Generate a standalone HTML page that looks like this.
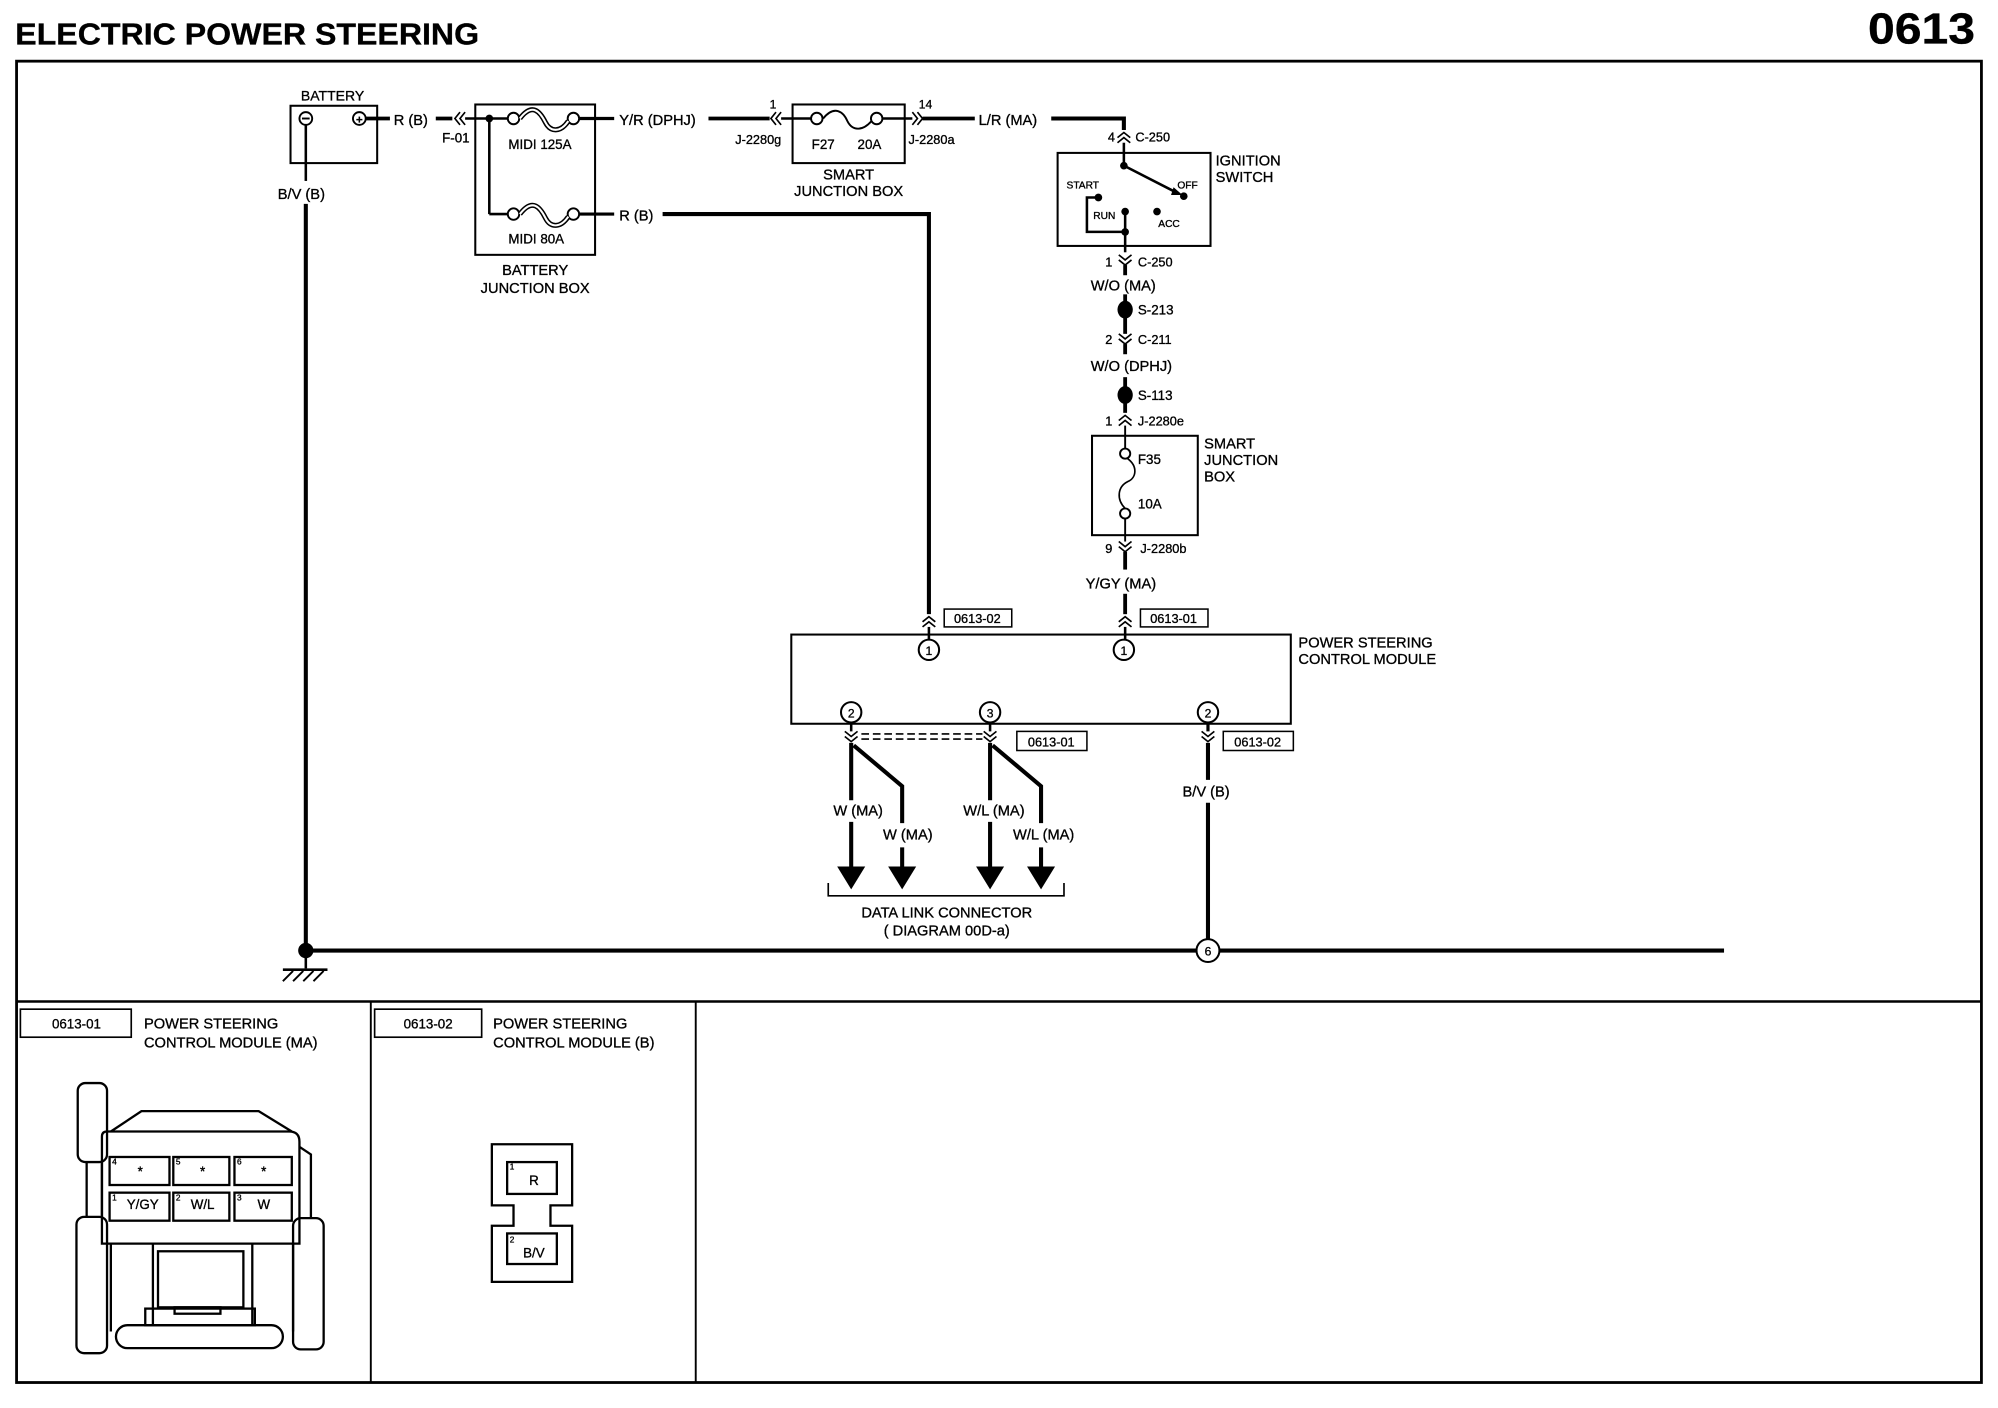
<!DOCTYPE html>
<html><head><meta charset="utf-8"><style>
html,body{margin:0;padding:0;background:#fff;}
svg{display:block;}
text{font-family:"Liberation Sans",Arial,sans-serif;fill:#000;stroke:#000;stroke-width:0.25;}
</style></head><body>
<svg width="1998" height="1408" viewBox="0 0 1568 1105" preserveAspectRatio="none" xmlns="http://www.w3.org/2000/svg">
<g font-size="11.5">
<text x="12" y="35" font-size="24" font-weight="bold" textLength="364" lengthAdjust="spacingAndGlyphs">ELECTRIC POWER STEERING</text>
<text x="1466" y="34" font-size="34" font-weight="bold" textLength="84" lengthAdjust="spacingAndGlyphs">0613</text>

<!-- frame -->
<rect x="13" y="48" width="1542" height="1037" fill="none" stroke="#000" stroke-width="2.2"/>
<line x1="13" y1="786" x2="1555" y2="786" stroke="#000" stroke-width="2"/>
<line x1="291" y1="786" x2="291" y2="1085" stroke="#000" stroke-width="1.5"/>
<line x1="546" y1="786" x2="546" y2="1085" stroke="#000" stroke-width="1.5"/>

<!-- battery -->
<text x="261" y="79" text-anchor="middle" font-size="11">BATTERY</text>
<rect x="228" y="83" width="68" height="45" fill="none" stroke="#000" stroke-width="1.6"/>
<circle cx="240" cy="93" r="5" fill="none" stroke="#000" stroke-width="1.5"/>
<line x1="237" y1="93" x2="243" y2="93" stroke="#000" stroke-width="1.5"/>
<circle cx="282" cy="93" r="5" fill="none" stroke="#000" stroke-width="1.5"/>
<text x="282" y="97" text-anchor="middle" font-size="9" font-weight="bold">+</text>
<line x1="287" y1="93" x2="306" y2="93" stroke="#000" stroke-width="3"/>
<text x="309" y="98">R (B)</text>
<line x1="342" y1="93" x2="355" y2="93" stroke="#000" stroke-width="3"/>
<path d="M361 88 L357 93 L361 98 M365 88 L361 93 L365 98" fill="none" stroke="#000" stroke-width="1.3"/>
<text x="347" y="112" font-size="10.5">F-01</text>
<line x1="365" y1="93" x2="402" y2="93" stroke="#000" stroke-width="2"/>
<text x="218" y="156">B/V (B)</text>
<line x1="240" y1="98" x2="240" y2="142" stroke="#000" stroke-width="2"/>
<line x1="240" y1="160" x2="240" y2="745" stroke="#000" stroke-width="3.2"/>
<circle cx="240" cy="746" r="6" fill="#000"/>
<line x1="240" y1="746" x2="240" y2="760" stroke="#000" stroke-width="2"/>
<line x1="222" y1="761" x2="257" y2="761" stroke="#000" stroke-width="2"/>
<path d="M230 762 L222 770 M238 762 L230 770 M246 762 L238 770 M254 762 L246 770" stroke="#000" stroke-width="1.5"/>
<line x1="240" y1="746" x2="1353" y2="746" stroke="#000" stroke-width="3.2"/>

<!-- battery junction box -->
<rect x="373" y="82" width="94" height="118" fill="none" stroke="#000" stroke-width="1.6"/>
<circle cx="384" cy="93" r="3" fill="#000"/>
<line x1="384" y1="93" x2="384" y2="168" stroke="#000" stroke-width="2"/>
<line x1="384" y1="168" x2="398" y2="168" stroke="#000" stroke-width="2"/>
<circle cx="403" cy="93" r="4.5" fill="#fff" stroke="#000" stroke-width="1.5"/>
<circle cx="450" cy="93" r="4.5" fill="#fff" stroke="#000" stroke-width="1.5"/>
<path d="M408 93 C418 80 424 88 428 96 C432 104 440 104 446 95" fill="none" stroke="#000" stroke-width="4"/>
<path d="M408 93 C418 80 424 88 428 96 C432 104 440 104 446 95" fill="none" stroke="#fff" stroke-width="1.6"/>
<text x="399" y="117" font-size="10.5">MIDI  125A</text>
<circle cx="403" cy="168" r="4.5" fill="#fff" stroke="#000" stroke-width="1.5"/>
<circle cx="450" cy="168" r="4.5" fill="#fff" stroke="#000" stroke-width="1.5"/>
<path d="M408 168 C418 155 424 163 428 171 C432 179 440 179 446 170" fill="none" stroke="#000" stroke-width="4"/>
<path d="M408 168 C418 155 424 163 428 171 C432 179 440 179 446 170" fill="none" stroke="#fff" stroke-width="1.6"/>
<text x="399" y="191" font-size="10.5">MIDI  80A</text>
<line x1="455" y1="93" x2="482" y2="93" stroke="#000" stroke-width="2.5"/>
<line x1="455" y1="168" x2="482" y2="168" stroke="#000" stroke-width="2.5"/>
<text x="420" y="216" text-anchor="middle">BATTERY</text>
<text x="420" y="230" text-anchor="middle">JUNCTION BOX</text>
<text x="486" y="98">Y/R (DPHJ)</text>
<text x="486" y="173">R (B)</text>
<path d="M520 168 L729 168 L729 482" fill="none" stroke="#000" stroke-width="3.2"/>
<line x1="556" y1="93" x2="604" y2="93" stroke="#000" stroke-width="3"/>
<path d="M609 88 L605 93 L609 98 M613 88 L609 93 L613 98" fill="none" stroke="#000" stroke-width="1.3"/>
<text x="604" y="85" font-size="9.5">1</text>
<text x="577" y="113" font-size="10">J-2280g</text>
<line x1="613" y1="93" x2="641" y2="93" stroke="#000" stroke-width="2"/>

<!-- smart junction box 1 -->
<rect x="622" y="82" width="88" height="46" fill="none" stroke="#000" stroke-width="1.6"/>
<circle cx="641" cy="93" r="4.5" fill="#fff" stroke="#000" stroke-width="1.5"/>
<circle cx="688" cy="93" r="4.5" fill="#fff" stroke="#000" stroke-width="1.5"/>
<path d="M646 93 C655 82 662 88 665 95 C669 103 677 103 684 95" fill="none" stroke="#000" stroke-width="1.5"/>
<text x="637" y="117" font-size="10.5">F27</text>
<text x="673" y="117" font-size="10.5">20A</text>
<line x1="693" y1="93" x2="716" y2="93" stroke="#000" stroke-width="2"/>
<path d="M716 88 L720 93 L716 98 M720 88 L724 93 L720 98" fill="none" stroke="#000" stroke-width="1.3"/>
<text x="721" y="85" font-size="9.5">14</text>
<text x="713" y="113" font-size="10">J-2280a</text>
<text x="666" y="141" text-anchor="middle">SMART</text>
<text x="666" y="154" text-anchor="middle">JUNCTION BOX</text>
<line x1="724" y1="93" x2="765" y2="93" stroke="#000" stroke-width="3"/>
<text x="768" y="98">L/R (MA)</text>
<path d="M825 93 L882 93 L882 102" fill="none" stroke="#000" stroke-width="3.2"/>
<path d="M877 108 L882 104 L887 108 M877 112 L882 108 L887 112" fill="none" stroke="#000" stroke-width="1.3"/>
<text x="875" y="111" font-size="10" text-anchor="end">4</text>
<text x="891" y="111" font-size="10">C-250</text>
<line x1="882" y1="112" x2="882" y2="130" stroke="#000" stroke-width="2"/>

<!-- ignition switch -->
<rect x="830" y="120" width="120" height="73" fill="none" stroke="#000" stroke-width="1.6"/>
<text x="954" y="130">IGNITION</text>
<text x="954" y="143">SWITCH</text>
<circle cx="882" cy="130" r="3" fill="#000"/>
<line x1="882" y1="130" x2="925" y2="152" stroke="#000" stroke-width="2"/>
<path d="M921 147 L928 153 L919 153 Z" fill="#000"/>
<circle cx="929" cy="154" r="3" fill="#000"/>
<text x="924" y="148" font-size="8">OFF</text>
<text x="837" y="148" font-size="8">START</text>
<circle cx="862" cy="155" r="3" fill="#000"/>
<path d="M862 155 L853 155 L853 182 L883 182" fill="none" stroke="#000" stroke-width="2"/>
<text x="858" y="172" font-size="8">RUN</text>
<circle cx="883" cy="166" r="3" fill="#000"/>
<circle cx="908" cy="166" r="3" fill="#000"/>
<text x="909" y="178" font-size="8">ACC</text>
<circle cx="883" cy="182" r="3" fill="#000"/>
<line x1="883" y1="166" x2="883" y2="198" stroke="#000" stroke-width="2"/>

<!-- vertical chain -->
<path d="M878 200 L883 204 L888 200 M878 204 L883 208 L888 204" fill="none" stroke="#000" stroke-width="1.3"/>
<text x="873" y="209" font-size="10" text-anchor="end">1</text>
<text x="893" y="209" font-size="10">C-250</text>
<line x1="883" y1="208" x2="883" y2="216" stroke="#000" stroke-width="3"/>
<text x="856" y="228">W/O (MA)</text>
<line x1="883" y1="231" x2="883" y2="262" stroke="#000" stroke-width="3"/>
<ellipse cx="883" cy="243" rx="6" ry="7" fill="#000"/>
<text x="893" y="247" font-size="10.5">S-213</text>
<path d="M878 262 L883 266 L888 262 M878 266 L883 270 L888 266" fill="none" stroke="#000" stroke-width="1.3"/>
<text x="873" y="270" font-size="10" text-anchor="end">2</text>
<text x="893" y="270" font-size="10">C-211</text>
<line x1="883" y1="270" x2="883" y2="278" stroke="#000" stroke-width="3"/>
<text x="856" y="291">W/O (DPHJ)</text>
<line x1="883" y1="296" x2="883" y2="324" stroke="#000" stroke-width="3"/>
<ellipse cx="883" cy="310" rx="6" ry="7" fill="#000"/>
<text x="893" y="314" font-size="10.5">S-113</text>
<path d="M878 330 L883 326 L888 330 M878 334 L883 330 L888 334" fill="none" stroke="#000" stroke-width="1.3"/>
<text x="873" y="334" font-size="10" text-anchor="end">1</text>
<text x="893" y="334" font-size="10">J-2280e</text>
<line x1="883" y1="334" x2="883" y2="352" stroke="#000" stroke-width="1.5"/>

<!-- smart junction box 2 -->
<rect x="857" y="342" width="83" height="78" fill="none" stroke="#000" stroke-width="1.6"/>
<circle cx="883" cy="356" r="4" fill="#fff" stroke="#000" stroke-width="1.5"/>
<circle cx="883" cy="403" r="4" fill="#fff" stroke="#000" stroke-width="1.5"/>
<path d="M885 360 C893 366 892 375 885 378 C877 382 876 392 883 399" fill="none" stroke="#000" stroke-width="1.3"/>
<text x="893" y="364" font-size="10.5">F35</text>
<text x="893" y="399" font-size="10.5">10A</text>
<text x="945" y="352">SMART</text>
<text x="945" y="365">JUNCTION</text>
<text x="945" y="378">BOX</text>
<line x1="883" y1="407" x2="883" y2="425" stroke="#000" stroke-width="1.5"/>
<path d="M878 425 L883 429 L888 425 M878 429 L883 433 L888 429" fill="none" stroke="#000" stroke-width="1.3"/>
<text x="873" y="434" font-size="10" text-anchor="end">9</text>
<text x="895" y="434" font-size="10">J-2280b</text>
<line x1="883" y1="433" x2="883" y2="447" stroke="#000" stroke-width="3"/>
<text x="852" y="462">Y/GY (MA)</text>
<line x1="883" y1="466" x2="883" y2="482" stroke="#000" stroke-width="3"/>
<path d="M878 488 L883 484 L888 488 M878 492 L883 488 L888 492" fill="none" stroke="#000" stroke-width="1.3"/>
<path d="M724 488 L729 484 L734 488 M724 492 L729 488 L734 492" fill="none" stroke="#000" stroke-width="1.3"/>
<line x1="729" y1="492" x2="729" y2="502" stroke="#000" stroke-width="2"/>
<line x1="883" y1="492" x2="883" y2="502" stroke="#000" stroke-width="2"/>
<rect x="741" y="478" width="53" height="14" fill="none" stroke="#000" stroke-width="1.2"/>
<text x="767" y="489" font-size="10" text-anchor="middle">0613-02</text>
<rect x="895" y="478" width="53" height="14" fill="none" stroke="#000" stroke-width="1.2"/>
<text x="921" y="489" font-size="10" text-anchor="middle">0613-01</text>

<!-- PSCM -->
<rect x="621" y="498" width="392" height="70" fill="none" stroke="#000" stroke-width="1.6"/>
<text x="1019" y="508">POWER STEERING</text>
<text x="1019" y="521">CONTROL MODULE</text>
<g font-size="9.5" text-anchor="middle">
<circle cx="729" cy="510" r="8" fill="#fff" stroke="#000" stroke-width="1.6"/><text x="729" y="514">1</text>
<circle cx="882" cy="510" r="8" fill="#fff" stroke="#000" stroke-width="1.6"/><text x="882" y="514">1</text>
<circle cx="668" cy="559" r="8" fill="#fff" stroke="#000" stroke-width="1.6"/><text x="668" y="563">2</text>
<circle cx="777" cy="559" r="8" fill="#fff" stroke="#000" stroke-width="1.6"/><text x="777" y="563">3</text>
<circle cx="948" cy="559" r="8" fill="#fff" stroke="#000" stroke-width="1.6"/><text x="948" y="563">2</text>
</g>
<line x1="668" y1="567" x2="668" y2="574" stroke="#000" stroke-width="2"/>
<line x1="777" y1="567" x2="777" y2="574" stroke="#000" stroke-width="2"/>
<line x1="948" y1="567" x2="948" y2="574" stroke="#000" stroke-width="2.5"/>
<path d="M663 574 L668 578 L673 574 M663 578 L668 582 L673 578" fill="none" stroke="#000" stroke-width="1.3"/>
<path d="M772 574 L777 578 L782 574 M772 578 L777 582 L782 578" fill="none" stroke="#000" stroke-width="1.3"/>
<path d="M943 574 L948 578 L953 574 M943 578 L948 582 L953 578" fill="none" stroke="#000" stroke-width="1.3"/>
<line x1="676" y1="576" x2="771" y2="576" stroke="#000" stroke-width="1.3" stroke-dasharray="6,3"/>
<line x1="676" y1="580" x2="771" y2="580" stroke="#000" stroke-width="1.3" stroke-dasharray="6,3"/>
<rect x="798" y="574" width="55" height="15" fill="none" stroke="#000" stroke-width="1.2"/>
<text x="825" y="586" font-size="10" text-anchor="middle">0613-01</text>
<rect x="960" y="574" width="55" height="15" fill="none" stroke="#000" stroke-width="1.2"/>
<text x="987" y="586" font-size="10" text-anchor="middle">0613-02</text>

<!-- DLC wires -->
<g stroke="#000" stroke-width="3.2" fill="none">
<path d="M668 583 L668 628 M668 645 L668 682"/>
<path d="M670 585 L708 617 L708 646 M708 665 L708 682"/>
<path d="M777 583 L777 628 M777 645 L777 682"/>
<path d="M779 585 L817 617 L817 646 M817 665 L817 682"/>
<path d="M948 583 L948 612 M948 630 L948 737"/>
</g>
<g fill="#000">
<path d="M657 680 L679 680 L668 698 Z"/>
<path d="M697 680 L719 680 L708 698 Z"/>
<path d="M766 680 L788 680 L777 698 Z"/>
<path d="M806 680 L828 680 L817 698 Z"/>
</g>
<text x="654" y="640">W (MA)</text>
<text x="693" y="659">W (MA)</text>
<text x="756" y="640">W/L (MA)</text>
<text x="795" y="659">W/L (MA)</text>
<text x="928" y="625">B/V (B)</text>
<path d="M650 693 L650 703 L835 703 L835 693" fill="none" stroke="#000" stroke-width="1.3"/>
<text x="743" y="720" text-anchor="middle">DATA LINK CONNECTOR</text>
<text x="743" y="734" text-anchor="middle">( DIAGRAM 00D-a)</text>
<circle cx="948" cy="746" r="9" fill="#fff" stroke="#000" stroke-width="1.6"/>
<text x="948" y="750" font-size="9.5" text-anchor="middle">6</text>

<!-- bottom panels -->
<rect x="16" y="792" width="87" height="22" fill="none" stroke="#000" stroke-width="1.3"/>
<text x="60" y="807" font-size="10.5" text-anchor="middle">0613-01</text>
<text x="113" y="807">POWER STEERING</text>
<text x="113" y="822">CONTROL MODULE (MA)</text>
<rect x="294" y="792" width="84" height="22" fill="none" stroke="#000" stroke-width="1.3"/>
<text x="336" y="807" font-size="10.5" text-anchor="middle">0613-02</text>
<text x="387" y="807">POWER STEERING</text>
<text x="387" y="822">CONTROL MODULE (B)</text>

<g fill="none" stroke="#000" stroke-width="1.8">
<rect x="61" y="850" width="23" height="62" rx="6"/>
<path d="M68 912 L68 955 M80 912 L80 955"/>
<rect x="60" y="955" width="24" height="107" rx="6"/>
<path d="M87 888 L111 872 L203 872 L229 888"/>
<path d="M84 888 L227 888 Q235 888 235 896 L235 976 L80 976 L80 892 Q80 888 84 888 Z"/>
<path d="M235 900 L244 906 L244 956"/>
<rect x="230" y="956" width="24" height="103" rx="6"/>
<rect x="86" y="908" width="47" height="22"/>
<rect x="136" y="908" width="44" height="22"/>
<rect x="184" y="908" width="45" height="22"/>
<rect x="86" y="936" width="47" height="22"/>
<rect x="136" y="936" width="44" height="22"/>
<rect x="184" y="936" width="45" height="22"/>
<path d="M87 976 L87 1045 M120 976 L120 1040 M198 976 L198 1040 M230 976 L230 1045"/>
<rect x="124" y="982" width="67" height="44"/>
<rect x="114" y="1027" width="86" height="13"/>
<rect x="91" y="1040" width="131" height="18" rx="9"/>
<rect x="137" y="1026" width="36" height="5"/>
<path d="M386 898 L449 898 L449 946 L432 946 L432 962 L449 962 L449 1006 L386 1006 L386 962 L403 962 L403 946 L386 946 Z"/>
<rect x="398" y="912" width="39" height="25"/>
<rect x="398" y="968" width="39" height="24"/>
</g>
<g font-size="10.5" text-anchor="middle">
<text x="110" y="923">*</text><text x="159" y="923">*</text><text x="207" y="923">*</text>
<text x="112" y="949">Y/GY</text><text x="159" y="949">W/L</text><text x="207" y="949">W</text>
<text x="419" y="930">R</text><text x="419" y="987">B/V</text>
</g>
<g font-size="6.5">
<text x="88" y="914">4</text><text x="138" y="914">5</text><text x="186" y="914">6</text>
<text x="88" y="942">1</text><text x="138" y="942">2</text><text x="186" y="942">3</text>
<text x="400" y="918">1</text><text x="400" y="975">2</text>
</g>
</g>
</svg>
</body></html>
